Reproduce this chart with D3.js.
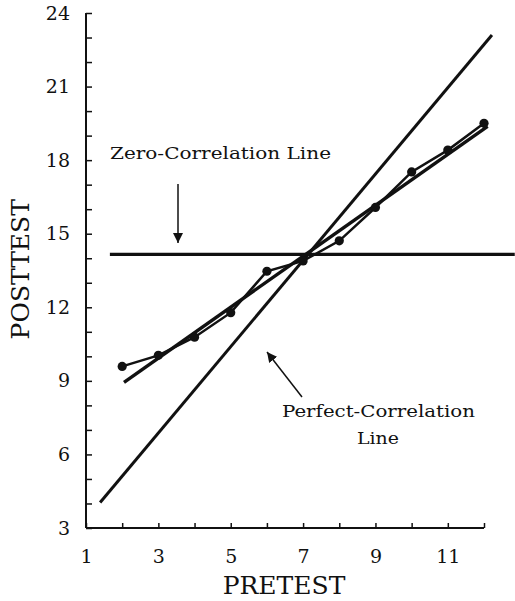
<!DOCTYPE html>
<html>
<head>
<meta charset="utf-8">
<script src="https://cdn.jsdelivr.net/npm/d3@7"></script>
<style>
    body { margin: 0; background: #fff; }
    svg { display: block; }
    text { font-family: "DejaVu Serif", "Liberation Serif", serif; fill: #111; }
</style>
</head>
<body>
<div id="chart"></div>
<script>
// data
const pretest = [2, 3, 4, 5, 6, 7, 8, 9, 10, 11, 12];
const posttest = [9.59, 10.04, 10.78, 11.78, 13.47, 13.89, 14.71, 16.07, 17.52, 18.41, 19.5];

const regressionLine = [[2.05, 8.94], [12.1, 19.38]];
const perfectLine = [[1.39, 4.04], [12.22, 23.1]];
const zeroLine = [[1.66, 14.16], [12.85, 14.16]];

const xTickLabels = [1, 3, 5, 7, 9, 11];
const yTickLabels = [3, 6, 9, 12, 15, 18, 21, 24];

const width = 515;
const height = 601;
const margin = { top: 13, right: 31, bottom: 73, left: 86 };

const svg = d3.select('#chart')
    .append('svg')
    .attr('width', width)
    .attr('height', height);

const x = d3.scaleLinear()
    .domain([1, 12])
    .range([margin.left, width - margin.right]);
const y = d3.scaleLinear()
    .domain([3, 24])
    .range([height - margin.bottom, margin.top]);

// axes
const xAxis = d3.axisBottom(x)
    .tickValues(d3.range(1, 13))
    .tickSize(-5)
    .tickFormat(d => xTickLabels.includes(d) ? d : '');
const yAxis = d3.axisLeft(y)
    .tickValues(d3.range(3, 25))
    .tickSize(-6)
    .tickFormat(d => yTickLabels.includes(d) ? d : '');

const xG = svg.append('g')
    .attr('transform', `translate(0,${y(3)})`)
    .call(xAxis);
xG.select('.domain').attr('d', `M${x(1)},0H${x(12)}`);
const yG = svg.append('g')
    .attr('transform', `translate(${x(1)},0)`)
    .call(yAxis);
yG.select('.domain').attr('d', `M0,${y(3)}V${y(24)}`);

svg.selectAll('.domain')
    .attr('stroke', '#111')
    .attr('stroke-width', 2);
svg.selectAll('.tick line')
    .attr('stroke', '#111')
    .attr('stroke-width', 1.5);
xG.selectAll('.tick text')
    .attr('font-size', 19)
    .attr('y', 22)
    .attr('dy', '0.71em')
    .style('font-family', '"DejaVu Serif", serif');
yG.selectAll('.tick text')
    .attr('font-size', 19)
    .attr('x', -16)
    .style('font-family', '"DejaVu Serif", serif');

// axis titles
svg.append('text')
    .attr('x', 284)
    .attr('y', 594)
    .attr('text-anchor', 'middle')
    .attr('font-size', 25)
    .text('PRETEST');
svg.append('text')
    .attr('transform', `translate(29,${y(13.55)}) rotate(-90)`)
    .attr('text-anchor', 'middle')
    .attr('font-size', 25)
    .text('POSTTEST');

// lines
const line = d3.line()
    .x(d => x(d[0]))
    .y(d => y(d[1]));

svg.append('path')
    .attr('d', line(zeroLine))
    .attr('fill', 'none')
    .attr('stroke', '#111')
    .attr('stroke-width', 3.2);
svg.append('path')
    .attr('d', line(perfectLine))
    .attr('fill', 'none')
    .attr('stroke', '#111')
    .attr('stroke-width', 3);
svg.append('path')
    .attr('d', line(regressionLine))
    .attr('fill', 'none')
    .attr('stroke', '#111')
    .attr('stroke-width', 3.4);

const points = pretest.map((p, i) => [p, posttest[i]]);
svg.append('path')
    .attr('d', line(points))
    .attr('fill', 'none')
    .attr('stroke', '#111')
    .attr('stroke-width', 2.5);
svg.selectAll('.dot')
    .data(points)
    .join('circle')
    .attr('class', 'dot')
    .attr('cx', d => x(d[0]))
    .attr('cy', d => y(d[1]))
    .attr('r', 4.6)
    .attr('fill', '#111');

// annotations
svg.append('defs')
    .append('marker')
    .attr('id', 'head')
    .attr('viewBox', '0 0 10 10')
    .attr('refX', 10)
    .attr('refY', 5)
    .attr('markerWidth', 10)
    .attr('markerHeight', 10)
    .attr('markerUnits', 'userSpaceOnUse')
    .attr('orient', 'auto')
    .append('path')
    .attr('d', 'M0,0L10,5L0,10z')
    .attr('fill', '#111');

const note = (tx, ty, str, len, anchor) => svg.append('text')
    .attr('x', tx)
    .attr('y', ty)
    .attr('text-anchor', anchor)
    .attr('font-size', 17.5)
    .attr('textLength', len)
    .attr('lengthAdjust', 'spacingAndGlyphs')
    .text(str);

note(110, 159, 'Zero-Correlation Line', 221, 'start');
svg.append('line')
    .attr('x1', 178).attr('y1', 184)
    .attr('x2', 178).attr('y2', 243)
    .attr('stroke', '#111')
    .attr('stroke-width', 1.5)
    .attr('marker-end', 'url(#head)');

note(378.5, 417, 'Perfect-Correlation', 193, 'middle');
note(378, 444, 'Line', 42, 'middle');
svg.append('line')
    .attr('x1', 302).attr('y1', 397)
    .attr('x2', 267).attr('y2', 352)
    .attr('stroke', '#111')
    .attr('stroke-width', 1.5)
    .attr('marker-end', 'url(#head)');
</script>
</body>
</html>
